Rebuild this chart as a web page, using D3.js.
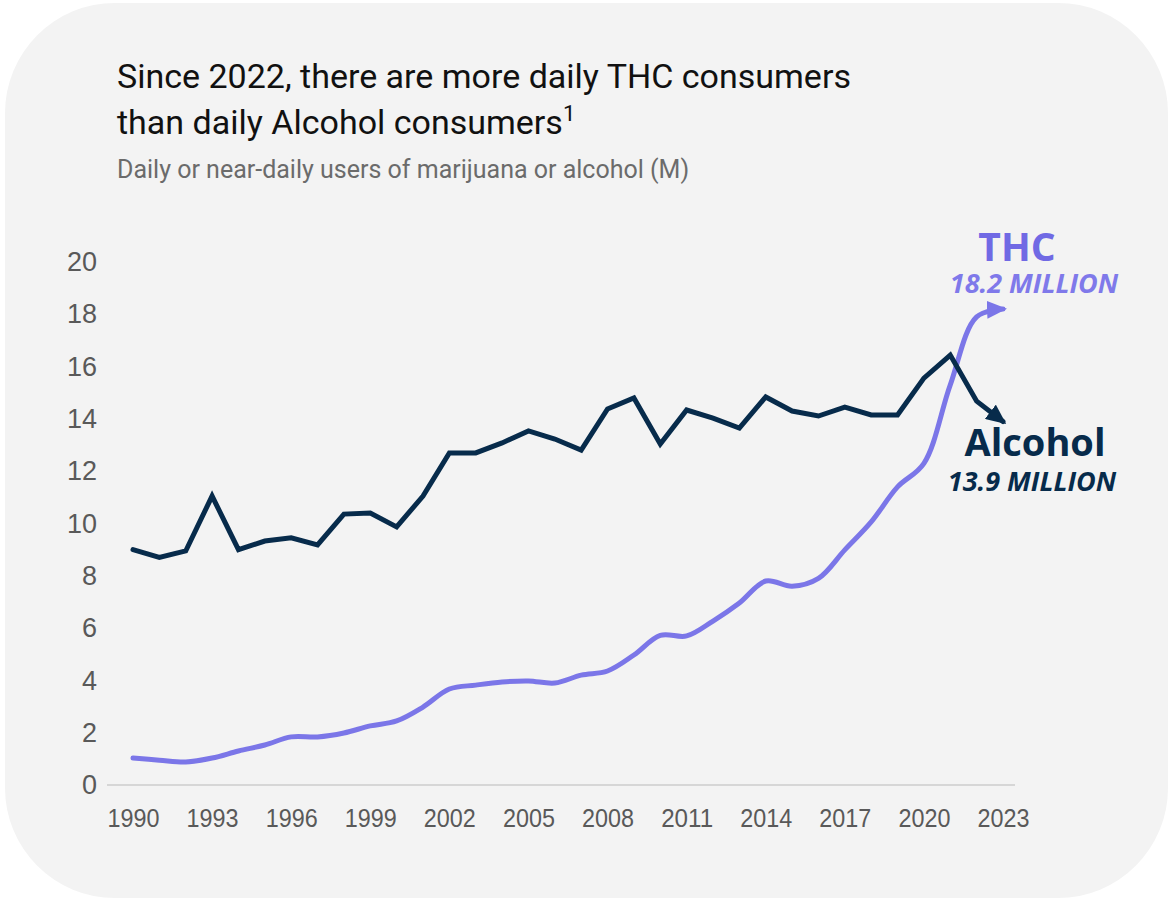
<!DOCTYPE html>
<html>
<head>
<meta charset="utf-8">
<script src="https://cdn.jsdelivr.net/npm/d3@7"></script>
<style>
  body { margin: 0; background: #fff; }
  svg { display: block; }
</style>
</head>
<body>
<svg id="chart"></svg>
<script>
const years = [1990, 1991, 1992, 1993, 1994, 1995, 1996, 1997, 1998, 1999,
  2000, 2001, 2002, 2003, 2004, 2005, 2006, 2007, 2008, 2009,
  2010, 2011, 2012, 2013, 2014, 2015, 2016, 2017, 2018, 2019,
  2020, 2021, 2022, 2023];

const alcohol = [9.0, 8.7, 8.95, 11.05, 9.0, 9.33, 9.45, 9.18, 10.36, 10.4,
  9.87, 11.05, 12.7, 12.7, 13.08, 13.54, 13.23, 12.81, 14.38, 14.8,
  13.04, 14.34, 14.03, 13.65, 14.84, 14.3, 14.11, 14.45, 14.15, 14.15,
  15.56, 16.44, 14.68, 13.9];

const thc = [1.03, 0.95, 0.88, 1.03, 1.3, 1.53, 1.84, 1.84, 1.99, 2.26,
  2.45, 2.98, 3.67, 3.82, 3.94, 3.98, 3.9, 4.2, 4.36, 4.97,
  5.72, 5.7, 6.27, 6.96, 7.8, 7.6, 7.9, 8.99, 10.06, 11.4,
  12.3, 15.3, 17.9, 18.2];

const xTicks = [1990, 1993, 1996, 1999, 2002, 2005, 2008, 2011, 2014, 2017, 2020, 2023];
const yTicks = [0, 2, 4, 6, 8, 10, 12, 14, 16, 18, 20];

const W = 1173, H = 901;
const navy = "#072b4b";
const purple = "#7b76e8";

const svg = d3.select("#chart").attr("width", W).attr("height", H);

// card background
svg.append("rect")
  .attr("x", 5).attr("y", 3)
  .attr("width", 1163).attr("height", 895)
  .attr("rx", 110).attr("ry", 110)
  .attr("fill", "#f3f3f3");

// title + subtitle
const title = svg.append("text")
  .attr("x", 117).attr("y", 88)
  .attr("font-family", "Roboto, sans-serif")
  .attr("font-size", 34)
  .attr("fill", "#111");
title.append("tspan").attr("x", 117).text("Since 2022, there are more daily THC consumers");
title.append("tspan").attr("x", 117).attr("dy", 46).text("than daily Alcohol consumers");
title.append("tspan").attr("dy", -13).attr("font-size", 22).text("1");

svg.append("text")
  .attr("x", 117).attr("y", 178)
  .attr("font-family", "Roboto, sans-serif")
  .attr("font-size", 25)
  .attr("fill", "#6b6b6b")
  .text("Daily or near-daily users of marijuana or alcohol (M)");

const x = d3.scaleLinear().domain([1990, 2023]).range([133, 1003]);
const y = d3.scaleLinear().domain([0, 20]).range([785, 262]);

// baseline
svg.append("line")
  .attr("x1", x(1990) - 26).attr("x2", x(2023) + 12)
  .attr("y1", y(0)).attr("y2", y(0))
  .attr("stroke", "#d6d6d6").attr("stroke-width", 2);

const yAxis = svg.append("g")
  .attr("transform", "translate(107,0)")
  .call(d3.axisLeft(y).tickValues(yTicks).tickSize(0).tickPadding(10));
yAxis.select(".domain").remove();
yAxis.selectAll("text")
  .attr("font-family", "'Liberation Sans', Arial, sans-serif")
  .attr("font-size", 27)
  .attr("fill", "#595959");

const xAxis = svg.append("g")
  .attr("transform", `translate(0,${y(0)})`)
  .call(d3.axisBottom(x).tickValues(xTicks).tickFormat(d3.format("d")).tickSize(0).tickPadding(24));
xAxis.select(".domain").remove();
xAxis.selectAll("text")
  .attr("font-family", "'Liberation Sans', Arial, sans-serif")
  .attr("font-size", 25)
  .attr("textLength", 52)
  .attr("lengthAdjust", "spacingAndGlyphs")
  .attr("fill", "#595959");

// arrow markers
const defs = svg.append("defs");
function marker(id, color) {
  defs.append("marker")
    .attr("id", id)
    .attr("markerUnits", "userSpaceOnUse")
    .attr("viewBox", "0 0 20 18")
    .attr("markerWidth", 20).attr("markerHeight", 18)
    .attr("refX", 16).attr("refY", 9)
    .attr("orient", "auto")
    .append("path")
    .attr("d", "M0,0 L20,9 L0,18 Z")
    .attr("fill", color);
}
marker("arrow-navy", navy);
marker("arrow-purple", purple);

const thcLine = d3.line()
  .x((d, i) => x(years[i]))
  .y(d => y(d))
  .curve(d3.curveCatmullRom.alpha(0.5));

const alcLine = d3.line()
  .x((d, i) => x(years[i]))
  .y(d => y(d));

svg.append("path")
  .datum(thc)
  .attr("d", thcLine)
  .attr("fill", "none")
  .attr("stroke", purple)
  .attr("stroke-width", 5)
  .attr("stroke-linecap", "round")
  .attr("marker-end", "url(#arrow-purple)");

svg.append("path")
  .datum(alcohol)
  .attr("d", alcLine)
  .attr("fill", "none")
  .attr("stroke", navy)
  .attr("stroke-width", 5)
  .attr("stroke-linejoin", "miter")
  .attr("stroke-linecap", "round")
  .attr("marker-end", "url(#arrow-navy)");

// end labels
const labelFont = "'Open Sans', 'DejaVu Sans', sans-serif";
svg.append("text")
  .attr("x", 1017).attr("y", 261)
  .attr("text-anchor", "middle")
  .attr("font-family", labelFont).attr("font-weight", 700)
  .attr("font-size", 39).attr("fill", "#7069e4")
  .text("THC");
svg.append("text")
  .attr("x", 1034).attr("y", 293)
  .attr("text-anchor", "middle")
  .attr("font-family", labelFont).attr("font-weight", 700).attr("font-style", "italic")
  .attr("font-size", 27).attr("fill", "#7f79ea")
  .text("18.2 MILLION");
svg.append("text")
  .attr("x", 1035).attr("y", 456)
  .attr("text-anchor", "middle")
  .attr("font-family", labelFont).attr("font-weight", 700)
  .attr("font-size", 38).attr("fill", navy)
  .text("Alcohol");
svg.append("text")
  .attr("x", 1032).attr("y", 491)
  .attr("text-anchor", "middle")
  .attr("font-family", labelFont).attr("font-weight", 700).attr("font-style", "italic")
  .attr("font-size", 27).attr("fill", navy)
  .text("13.9 MILLION");
</script>
</body>
</html>
